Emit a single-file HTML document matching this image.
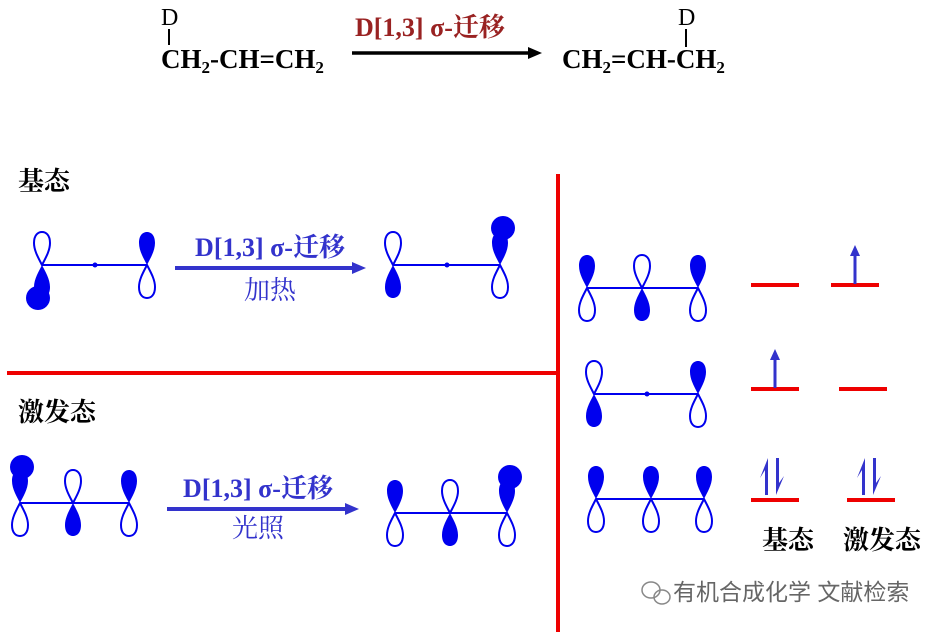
<!DOCTYPE html>
<html><head><meta charset="utf-8"><style>
body{margin:0;background:#fff;width:940px;height:632px;overflow:hidden}
svg{display:block}
.s{font-family:"Liberation Serif","Noto Serif CJK SC",serif}
.c{font-family:"Liberation Serif","Noto Serif CJK SC","Noto Sans CJK SC",serif}
</style></head><body>
<svg width="940" height="632" viewBox="0 0 940 632" xmlns="http://www.w3.org/2000/svg">
<defs>
<path id="up" d="M0,0 C-3,-6 -8,-14 -8,-22 C-8,-30 -4,-33 0,-33 C4,-33 8,-30 8,-22 C8,-14 3,-6 0,0Z"/>
<path id="dn" d="M0,0 C-3,6 -8,14 -8,22 C-8,30 -4,33 0,33 C4,33 8,30 8,22 C8,14 3,6 0,0Z"/>
<g id="UF"><use href="#up" fill="#0000ee"/></g>
<g id="UO"><use href="#up" fill="#fff" stroke="#0000ee" stroke-width="2"/></g>
<g id="DF"><use href="#dn" fill="#0000ee"/></g>
<g id="DO"><use href="#dn" fill="#fff" stroke="#0000ee" stroke-width="2"/></g>
</defs>

<!-- top equation -->
<g class="s" font-size="27">
<text x="161" y="25" font-size="24">D</text>
<line x1="169" y1="29" x2="169" y2="45" stroke="#000" stroke-width="2"/>
<text x="161" y="68" font-weight="bold">CH<tspan font-size="17" dy="5">2</tspan><tspan dy="-5">-CH=CH</tspan><tspan font-size="17" dy="5">2</tspan></text>
<text x="355" y="36" font-weight="bold" fill="#992222" class="c" font-size="26">D[1,3] σ-迁移</text>
<line x1="352" y1="53" x2="530" y2="53" stroke="#000" stroke-width="3.5"/>
<path d="M528,47 L542,53 L528,59Z" fill="#000"/>
<text x="562" y="68" font-weight="bold">CH<tspan font-size="17" dy="5">2</tspan><tspan dy="-5">=CH-CH</tspan><tspan font-size="17" dy="5">2</tspan></text>
<text x="678" y="25" font-size="24">D</text>
<line x1="686" y1="29" x2="686" y2="47" stroke="#000" stroke-width="2"/>
</g>

<!-- dividers -->
<line x1="558" y1="174" x2="558" y2="632" stroke="#ee0000" stroke-width="4"/>
<line x1="7" y1="373" x2="558" y2="373" stroke="#ee0000" stroke-width="4"/>

<g class="c" font-weight="bold" font-size="26">
<text x="18" y="190">基态</text>
<text x="18" y="421">激发态</text>
</g>

<!-- row 1 left -->
<line x1="42" y1="265" x2="147" y2="265" stroke="#0000ee" stroke-width="2"/>
<circle cx="95" cy="265" r="2.5" fill="#0000ee"/>
<use href="#UO" x="42" y="265"/><use href="#DF" x="42" y="265"/>
<circle cx="38" cy="298" r="12" fill="#0000ee"/>
<use href="#UF" x="147" y="265"/><use href="#DO" x="147" y="265"/>
<line x1="175" y1="268" x2="354" y2="268" stroke="#3333cc" stroke-width="4"/>
<path d="M352,262 L366,268 L352,274Z" fill="#3333cc"/>
<text x="270" y="256" text-anchor="middle" class="c" font-size="26" font-weight="bold" fill="#3333cc">D[1,3] σ-迁移</text>
<text x="270" y="299" text-anchor="middle" class="c" font-size="26" fill="#3333cc">加热</text>
<line x1="393" y1="265" x2="500" y2="265" stroke="#0000ee" stroke-width="2"/>
<circle cx="447" cy="265" r="2.5" fill="#0000ee"/>
<use href="#UO" x="393" y="265"/><use href="#DF" x="393" y="265"/>
<use href="#UF" x="500" y="265"/><use href="#DO" x="500" y="265"/>
<circle cx="503" cy="228" r="12" fill="#0000ee"/>

<!-- row 2 left -->
<line x1="20" y1="503" x2="129" y2="503" stroke="#0000ee" stroke-width="2"/>
<use href="#UF" x="20" y="503"/><use href="#DO" x="20" y="503"/>
<circle cx="22" cy="467" r="12" fill="#0000ee"/>
<use href="#UO" x="73" y="503"/><use href="#DF" x="73" y="503"/>
<use href="#UF" x="129" y="503"/><use href="#DO" x="129" y="503"/>
<line x1="167" y1="509" x2="347" y2="509" stroke="#3333cc" stroke-width="4"/>
<path d="M345,503 L359,509 L345,515Z" fill="#3333cc"/>
<text x="258" y="497" text-anchor="middle" class="c" font-size="26" font-weight="bold" fill="#3333cc">D[1,3] σ-迁移</text>
<text x="258" y="537" text-anchor="middle" class="c" font-size="26" fill="#3333cc">光照</text>
<line x1="395" y1="513" x2="507" y2="513" stroke="#0000ee" stroke-width="2"/>
<use href="#UF" x="395" y="513"/><use href="#DO" x="395" y="513"/>
<use href="#UO" x="450" y="513"/><use href="#DF" x="450" y="513"/>
<use href="#UF" x="507" y="513"/><use href="#DO" x="507" y="513"/>
<circle cx="510" cy="477" r="12" fill="#0000ee"/>

<!-- right panel -->
<line x1="587" y1="288" x2="698" y2="288" stroke="#0000ee" stroke-width="2"/>
<use href="#UF" x="587" y="288"/><use href="#DO" x="587" y="288"/>
<use href="#UO" x="642" y="288"/><use href="#DF" x="642" y="288"/>
<use href="#UF" x="698" y="288"/><use href="#DO" x="698" y="288"/>

<line x1="594" y1="394" x2="698" y2="394" stroke="#0000ee" stroke-width="2"/>
<circle cx="647" cy="394" r="2.5" fill="#0000ee"/>
<use href="#UO" x="594" y="394"/><use href="#DF" x="594" y="394"/>
<use href="#UF" x="698" y="394"/><use href="#DO" x="698" y="394"/>

<line x1="596" y1="499" x2="704" y2="499" stroke="#0000ee" stroke-width="2"/>
<use href="#UF" x="596" y="499"/><use href="#DO" x="596" y="499"/>
<use href="#UF" x="651" y="499"/><use href="#DO" x="651" y="499"/>
<use href="#UF" x="704" y="499"/><use href="#DO" x="704" y="499"/>

<g stroke="#ee0000" stroke-width="4">
<line x1="751" y1="285" x2="799" y2="285"/><line x1="831" y1="285" x2="879" y2="285"/>
<line x1="751" y1="389" x2="799" y2="389"/><line x1="839" y1="389" x2="887" y2="389"/>
<line x1="751" y1="500" x2="799" y2="500"/><line x1="847" y1="500" x2="895" y2="500"/>
</g>
<line x1="855" y1="284" x2="855" y2="254" stroke="#3333cc" stroke-width="3"/>
<path d="M850,256 L855,245 L860,256Z" fill="#3333cc"/>
<line x1="775" y1="388" x2="775" y2="358" stroke="#3333cc" stroke-width="3"/>
<path d="M770,360 L775,349 L780,360Z" fill="#3333cc"/>
<g fill="#3333cc">
<path d="M768,458 L768,495 L765,495 L765,470 L760,478 Z"/>
<path d="M776,458 L779,458 L779,483 L784,476 L776,495 Z"/>
<path d="M865,458 L865,495 L862,495 L862,470 L857,478 Z"/>
<path d="M873,458 L876,458 L876,483 L881,476 L873,495 Z"/>
</g>
<g class="c" font-weight="bold" font-size="26">
<text x="762" y="549">基态</text>
<text x="843" y="549">激发态</text>
</g>

<!-- watermark -->
<g fill="none" stroke="#888" stroke-width="1.5">
<ellipse cx="651" cy="590" rx="9" ry="8"/>
<ellipse cx="662" cy="597" rx="8" ry="7"/>
</g>
<text x="673" y="600" font-family="Liberation Sans,Noto Sans CJK SC,sans-serif" font-size="23" fill="#666">有机合成化学 文献检索</text>
</svg>
</body></html>
